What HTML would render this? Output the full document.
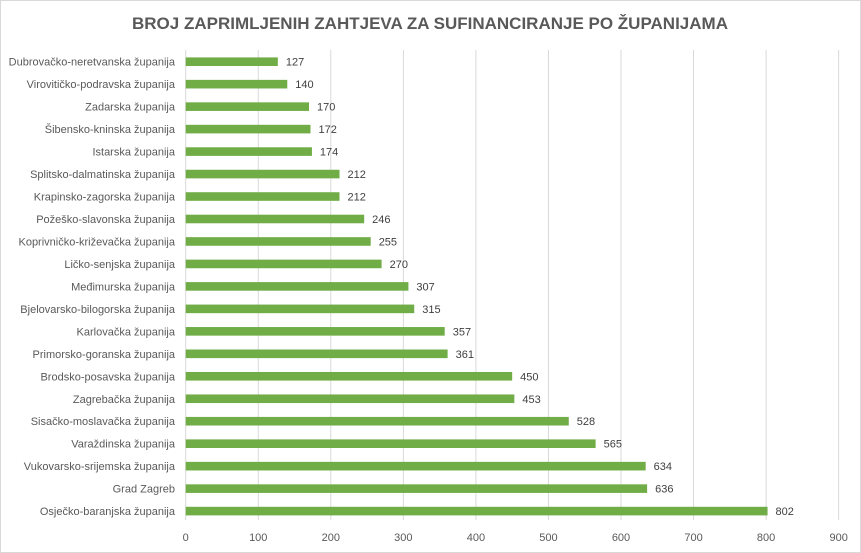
<!DOCTYPE html>
<html><head><meta charset="utf-8"><style>
body{margin:0;background:#fff;}
svg{display:block;font-family:"Liberation Sans",sans-serif;}
</style></head><body>
<svg id="c" width="861" height="553">
<rect x="0.5" y="0.5" width="860" height="552" fill="#fff" stroke="#d9d9d9"/>
<text x="430" y="29" text-anchor="middle" font-size="17" font-weight="bold" fill="#595959">BROJ ZAPRIMLJENIH ZAHTJEVA ZA SUFINANCIRANJE PO ŽUPANIJAMA</text>
<g id="grid"></g><g id="bars"></g>
</svg>
<script>
const categories=["Dubrovačko-neretvanska županija","Virovitičko-podravska županija","Zadarska županija","Šibensko-kninska županija","Istarska županija","Splitsko-dalmatinska županija","Krapinsko-zagorska županija","Požeško-slavonska županija","Koprivničko-križevačka županija","Ličko-senjska županija","Međimurska županija","Bjelovarsko-bilogorska županija","Karlovačka županija","Primorsko-goranska županija","Brodsko-posavska županija","Zagrebačka županija","Sisačko-moslavačka županija","Varaždinska županija","Vukovarsko-srijemska županija","Grad Zagreb","Osječko-baranjska županija"];
const values=[127,140,170,172,174,212,212,246,255,270,307,315,357,361,450,453,528,565,634,636,802];
const ticks=[0,100,200,300,400,500,600,700,800,900];
const NS="http://www.w3.org/2000/svg";
const x=v=>185.7+v*0.7255;
const yc=i=>61.7+i*22.47;
const grid=document.getElementById('grid'),bars=document.getElementById('bars');
function mk(tag,a,p){const e=document.createElementNS(NS,tag);for(const k in a)e.setAttribute(k,a[k]);p.appendChild(e);return e;}
ticks.forEach(t=>{
 const l=mk('line',{x1:x(t),x2:x(t),y1:50,y2:520,stroke:'#d9d9d9','stroke-width':1},grid);
 
 
 const tx=mk('text',{x:x(t),y:541,'text-anchor':'middle','font-size':11,fill:'#595959'},grid);
 tx.textContent=t;
 
 
});
categories.forEach((c,i)=>{
 const y=yc(i);
 const lb=mk('text',{x:175,y:y+4,'text-anchor':'end','font-size':11,fill:'#595959'},bars);
 lb.textContent=c;
 
 
 const r=mk('rect',{x:x(0),y:y-4.3,width:x(values[i])-x(0),height:8.6,fill:'#70ad47'},bars);
 
 
 const v=mk('text',{x:x(values[i])+8,y:y+4,'font-size':11,fill:'#404040'},bars);
 v.textContent=values[i];
 
 
});
</script>
</body></html>
